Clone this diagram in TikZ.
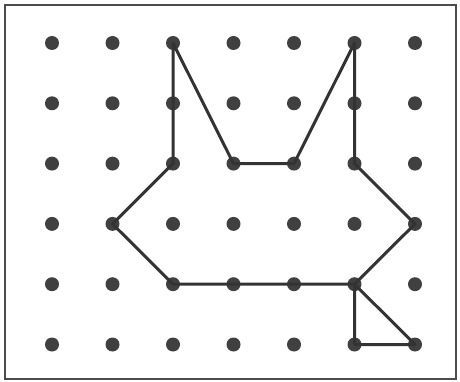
\documentclass[tikz,border=0pt]{standalone}
\begin{document}
\begin{tikzpicture}[x=1pt,y=-1pt,
  dot/.style={circle,fill=black!75,inner sep=0pt,minimum size=14pt},
  edge/.style={draw=black!80,line width=3pt,line join=round,line cap=round}]
\useasboundingbox (0,0) rectangle (460,382);
\draw[black!70,line width=2pt] (5,5) rectangle (456,379);
\foreach \i in {0,...,6}{
  \foreach \j in {0,...,5}{
    \node[dot] (d-\i-\j) at ({52+60.5*\i},{43+60.3*\j}) {};
  }
}
\draw[edge] (d-2-0.center) -- (d-3-2.center) -- (d-4-2.center) -- (d-5-0.center) -- (d-5-2.center)
  -- (d-6-3.center) -- (d-5-4.center) -- (d-2-4.center) -- (d-1-3.center) -- (d-2-2.center) -- cycle;
\draw[edge] (d-5-4.center) -- (d-5-5.center) -- (d-6-5.center) -- (d-5-4.center);
\end{tikzpicture}
\end{document}
